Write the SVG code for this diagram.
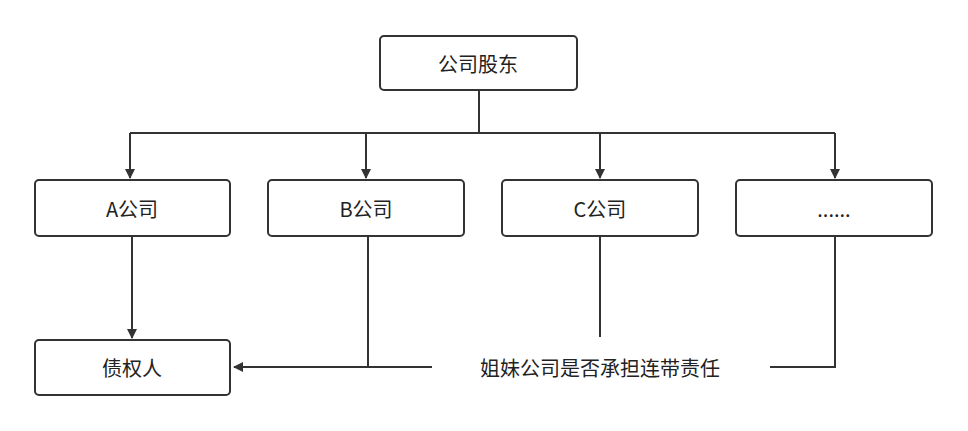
<svg xmlns="http://www.w3.org/2000/svg" width="968" height="431" viewBox="0 0 968 431">
<style>
.b{fill:#fff;stroke:#333;stroke-width:2}
.t{font-family:"Noto Sans CJK SC","Liberation Sans",sans-serif;font-size:20px;fill:#222;text-anchor:middle;dominant-baseline:central}
.c{fill:none;stroke:#333;stroke-width:2}
</style>
<defs><marker id="a" markerWidth="10" markerHeight="10" refX="9" refY="5" orient="auto" markerUnits="userSpaceOnUse"><path d="M0,0L10,5L0,10z" fill="#333"/></marker></defs>
<rect width="968" height="431" fill="#fff"/>
<g id="connectors">
<path class="c" d="M479,90V133M130,133H835"/>
<path class="c" d="M130,133V178" marker-end="url(#a)"/>
<path class="c" d="M366,133V178" marker-end="url(#a)"/>
<path class="c" d="M600,133V178" marker-end="url(#a)"/>
<path class="c" d="M835,133V178" marker-end="url(#a)"/>
<path class="c" d="M132,236V338" marker-end="url(#a)"/>
<path class="c" d="M368,236V367"/>
<path class="c" d="M600,236V337"/>
<path class="c" d="M835,236V367H770"/>
<path class="c" d="M432,367H234" marker-end="url(#a)"/>
</g>
<g id="n0"><rect class="b" x="380" y="36" width="197" height="54" rx="4"/><text class="t" x="478" y="63">公司股东</text></g>
<g id="n1"><rect class="b" x="35" y="180" width="195" height="56" rx="4"/><text class="t" x="132" y="208">A公司</text></g>
<g id="n2"><rect class="b" x="268" y="180" width="196" height="56" rx="4"/><text class="t" x="366" y="208">B公司</text></g>
<g id="n3"><rect class="b" x="502" y="180" width="196" height="56" rx="4"/><text class="t" x="600" y="208">C公司</text></g>
<g id="n4"><rect class="b" x="736" y="180" width="196" height="56" rx="4"/><text class="t" x="834" y="208">......</text></g>
<g id="n5"><rect class="b" x="35" y="340" width="195" height="55" rx="4"/><text class="t" x="132" y="367">债权人</text></g>
<g id="lbl"><text class="t" x="600" y="367">姐妹公司是否承担连带责任</text></g>
</svg>
